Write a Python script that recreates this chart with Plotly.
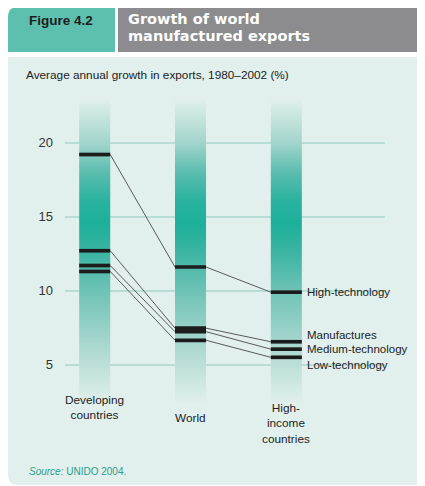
import plotly.graph_objects as go

# ---- data ----
groups = ["Developing<br>countries", "World", "High-<br>income<br>countries"]
series = ["High-technology", "Manufactures", "Medium-technology", "Low-technology"]
values = {
    "High-technology":   [19.2, 11.6, 9.9],
    "Manufactures":      [12.7, 7.47, 6.55],
    "Medium-technology": [11.7, 7.23, 6.05],
    "Low-technology":    [11.3, 6.65, 5.5],
}
yticks = [5, 10, 15, 20]
title_lines = ["Growth of world", "manufactured exports"]
fig_label = "Figure 4.2"
subtitle = "Average annual growth in exports, 1980\u20132002 (%)"
source = "<i>Source:</i> UNIDO 2004."

# ---- layout geometry (page pixels; page body has an 8px margin) ----
OFF = 8
W, H = 425 - OFF, 486 - OFF
L, R, T, B = 65 - OFF, 40, 98 - OFF, 84
PW, PH = W - L - R, H - T - B
XR = [-0.31, 3.03]
YR = [2.48, 23.02]
HW = 0.162  # column half width (x units)

def fx(px):
    return (px - OFF - L) / PW

def fy(py):
    return (H - B - (py - OFF)) / PH

FONT = "Liberation Sans, Arial, sans-serif"
TFONT = "DejaVu Sans, Liberation Sans, sans-serif"
PANEL = "#e1f0ed"

fig = go.Figure()

# gradient columns
cscale = [
    [0.000, "#dfefec"],
    [0.123, "#bcdfd8"],
    [0.235, "#9ad2c8"],
    [0.366, "#6ec3b5"],
    [0.488, "#3db5a3"],
    [0.585, "#1db09b"],
    [0.658, "#28b29f"],
    [0.756, "#5cbdaf"],
    [0.853, "#a2d5cc"],
    [1.000, "#e2f0ed"],
]
for i, g in enumerate(groups):
    fig.add_trace(go.Scatter(
        x=[i - HW, i + HW, i + HW, i - HW, i - HW],
        y=[YR[0], YR[0], YR[1], YR[1], YR[0]],
        mode="lines", line=dict(width=0), fill="toself",
        fillgradient=dict(type="vertical", colorscale=cscale, start=YR[0], stop=YR[1]),
        hoverinfo="skip", showlegend=False,
    ))

# connectors
for s in series:
    v = values[s]
    xs, ys = [], []
    for i in range(len(groups) - 1):
        xs += [i + HW, i + 1 - HW, None]
        ys += [v[i], v[i + 1], None]
    fig.add_trace(go.Scatter(x=xs, y=ys, mode="lines",
                             line=dict(color="#5a5a5a", width=1),
                             hoverinfo="skip", showlegend=False))
# bars
for s in series:
    v = values[s]
    xs, ys = [], []
    for i in range(len(groups)):
        xs += [i - HW, i + HW, None]
        ys += [v[i], v[i], None]
    fig.add_trace(go.Scatter(x=xs, y=ys, mode="lines",
                             line=dict(color="#1c1c1c", width=3.7),
                             hoverinfo="skip", showlegend=False, name=s))

shapes = []
r = 10
# panel with rounded bottom-left corner
shapes.append(dict(
    type="path", xref="paper", yref="paper", layer="below",
    path=(f"M {fx(8)},{fy(57)} L {fx(430)},{fy(57)} L {fx(430)},{fy(485)} "
          f"L {fx(8+r)},{fy(485)} Q {fx(8)},{fy(485)} {fx(8)},{fy(485-r)} Z"),
    fillcolor=PANEL, line=dict(width=0)))
# header teal box with rounded top-left corner
shapes.append(dict(
    type="path", xref="paper", yref="paper", layer="below",
    path=(f"M {fx(8)},{fy(52)} L {fx(8)},{fy(7+r)} Q {fx(8)},{fy(7)} {fx(8+r)},{fy(7)} "
          f"L {fx(115)},{fy(7)} L {fx(115)},{fy(52)} Z"),
    fillcolor="#5dc0ae", line=dict(width=0)))
# header gray box
shapes.append(dict(
    type="rect", xref="paper", yref="paper", layer="below",
    x0=fx(118), x1=fx(430), y0=fy(52), y1=fy(7),
    fillcolor="#8c8c8e", line=dict(width=0)))

ann = []
ann.append(dict(text=f"<b>{fig_label}</b>", x=fx(27), y=fy(20), xref="paper", yref="paper",
                xanchor="left", yanchor="middle", showarrow=False,
                font=dict(family=FONT, size=13.5, color="#1e1e1e")))
for k, line in enumerate(title_lines):
    ann.append(dict(text=f"<b>{line}</b>", x=fx(126), y=fy(19 + 17 * k), xref="paper", yref="paper",
                    xanchor="left", yanchor="middle", showarrow=False,
                    font=dict(family=TFONT, size=14.5, color="white")))
ann.append(dict(text=subtitle, x=fx(24), y=fy(75), xref="paper", yref="paper",
                xanchor="left", yanchor="middle", showarrow=False,
                font=dict(family=FONT, size=11.8, color="#222")))
ann.append(dict(text=source, x=fx(27), y=fy(471), xref="paper", yref="paper",
                xanchor="left", yanchor="middle", showarrow=False,
                font=dict(family=FONT, size=10, color="#2a9e8c")))
# category labels
cat_top = [391, 409, 399]
for i, g in enumerate(groups):
    ann.append(dict(text=g, x=i, y=fy(cat_top[i]), xref="x", yref="paper",
                    xanchor="center", yanchor="top", showarrow=False, align="center",
                    font=dict(family=FONT, size=11.8, color="#222")))
# series labels
shifts = {"High-technology": 0, "Manufactures": 7, "Medium-technology": 0, "Low-technology": -7.5}
last = len(groups) - 1
for s in series:
    ann.append(dict(text=s, x=last + HW, y=values[s][last], xref="x", yref="y",
                    xanchor="left", yanchor="middle", xshift=4, yshift=shifts[s],
                    borderpad=0, showarrow=False,
                    font=dict(family=FONT, size=11.5, color="#222")))

fig.update_layout(
    width=W, height=H,
    margin=dict(l=L, r=R, t=T, b=B, pad=0),
    paper_bgcolor="white", plot_bgcolor="rgba(0,0,0,0)",
    shapes=shapes, annotations=ann, showlegend=False,
    xaxis=dict(range=XR, showgrid=False, zeroline=False, showticklabels=False,
               showline=False, fixedrange=True),
    yaxis=dict(range=YR, tickvals=yticks, showgrid=True, gridcolor="#b8ddd6", gridwidth=1.5,
               zeroline=False, showline=False, ticks="", ticklabelstandoff=11,
               tickfont=dict(family=FONT, size=13, color="#333"), fixedrange=True),
)

fig.write_html("out.html")
